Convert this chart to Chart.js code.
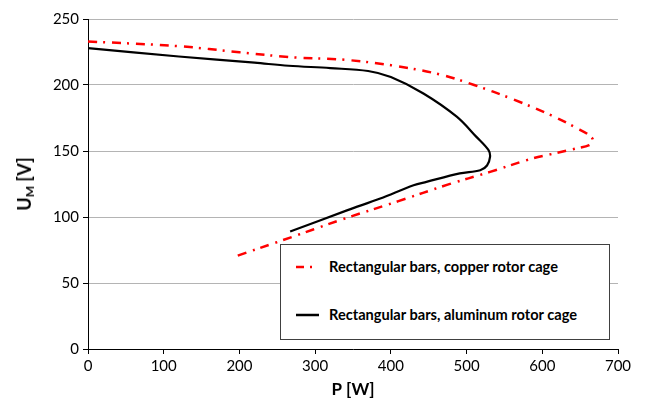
<!DOCTYPE html>
<html>
<head>
<meta charset="utf-8">
<script src="https://cdn.jsdelivr.net/npm/chart.js@4"></script>
<style>
  html,body{margin:0;padding:0;background:#fff;}
  #wrap{position:relative;width:646px;height:406px;}
  #ytitle{position:absolute;left:25px;top:184px;transform:translate(-50%,-50%) rotate(-90deg);
    font:bold 18px Lato, sans-serif;color:#000;white-space:nowrap;}
  #ytitle sub{font-size:12px;vertical-align:-3px;}
  #legend{position:absolute;left:280px;top:244px;width:328px;height:94px;border:1px solid #404040;background:#fff;
    font:bold 14.6px Lato, sans-serif;color:#000;}
  .row{position:absolute;left:14px;display:flex;align-items:center;}
  .row svg{margin-right:10px;}
</style>
</head>
<body>
<div id="wrap">
  <canvas id="c" width="646" height="406"></canvas>
  <div id="ytitle">U<sub>M</sub> [V]</div>
  <div id="legend">
    <div class="row" style="top:13px"><svg width="24" height="6"><line x1="1" y1="3" x2="9" y2="3" stroke="#f00" stroke-width="2.5"/><line x1="15" y1="3" x2="17" y2="3" stroke="#f00" stroke-width="2.5"/></svg><span>Rectangular bars, copper rotor cage</span></div>
    <div class="row" style="top:61px"><svg width="24" height="6"><line x1="1" y1="3" x2="24" y2="3" stroke="#000" stroke-width="2.5"/></svg><span>Rectangular bars, aluminum rotor cage</span></div>
  </div>
</div>
<script>
// copper cage curve, P [W] vs U_M [V]
const copperP = [0, 120, 200, 270, 335, 400, 465, 510, 560, 612, 645, 662, 667, 662, 645, 615, 585, 530, 475, 410, 340, 255, 194];
const copperU = [233, 229.4, 224.8, 221, 219.3, 215, 208, 200, 189.5, 177, 167.5, 162, 158, 154.5, 152, 148, 144, 134, 124.5, 112, 99, 82, 70];
// aluminum cage curve
const aluP = [0, 120, 220, 265, 320, 370, 400, 443, 487, 513, 529, 531, 527, 518, 491, 447, 430, 386, 342, 267];
const aluU = [228, 221.6, 216.9, 214.6, 212.8, 210.6, 206, 193.6, 176, 160.7, 150.6, 145.5, 139, 135.4, 133, 126.6, 124, 114, 105, 89];

const pts = (xs, ys) => xs.map((x, i) => ({x, y: ys[i]}));
const tickFont = {family:'Lato', size:15};

new Chart(document.getElementById('c').getContext('2d'), {
  type:'scatter',
  data:{datasets:[
    {label:'Rectangular bars, copper rotor cage', data:pts(copperP, copperU), showLine:true,
      borderColor:'#ff0000', borderWidth:2.5, borderDash:[9,6,2,7], pointRadius:0, tension:0.35},
    {label:'Rectangular bars, aluminum rotor cage', data:pts(aluP, aluU), showLine:true,
      borderColor:'#000000', borderWidth:2.2, pointRadius:0, tension:0.35},
  ]},
  options:{
    responsive:false, animation:false,
    layout:{padding:{top:19, right:28, left:0, bottom:6}},
    plugins:{legend:{display:false}, tooltip:{enabled:false}},
    scales:{
      x:{type:'linear', min:0, max:700,
        ticks:{stepSize:100, font:tickFont, color:'#000', padding:3, maxRotation:0},
        grid:{drawOnChartArea:false, drawTicks:true, tickLength:5, tickColor:'#000'},
        border:{color:'#000', width:1},
        title:{display:true, text:'P [W]', font:{family:'Lato', size:17, weight:'bold'}, color:'#000', padding:{top:2, bottom:0}},
        afterFit(s){ s.height = 51; }
      },
      y:{type:'linear', min:0, max:250,
        ticks:{stepSize:50, font:tickFont, color:'#000', padding:4},
        grid:{color:'#b4b4b4', lineWidth:1, tickLength:5, tickColor:'#000'},
        border:{color:'#000', width:1},
        afterFit(s){ s.width = 88; }
      }
    }
  }
});
</script>
</body>
</html>
